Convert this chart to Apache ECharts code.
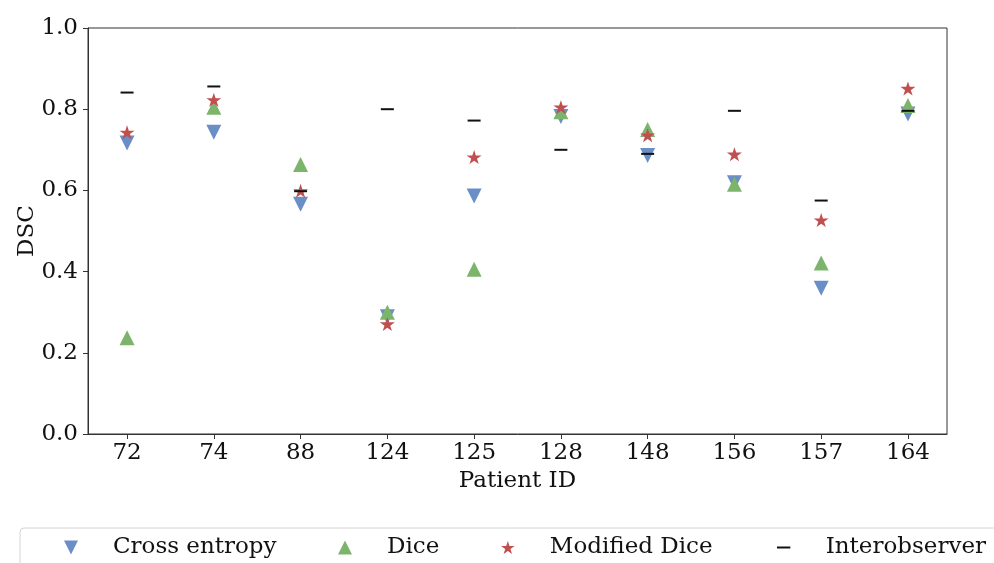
<!DOCTYPE html>
<html>
<head>
<meta charset="utf-8">
<script src="https://cdn.jsdelivr.net/npm/echarts@6/dist/echarts.min.js"></script>
<style>
  html, body { margin: 0; padding: 0; background: #fff; }
  #chart { width: 994px; height: 563px; }
</style>
</head>
<body>
<div id="chart"></div>
<script>
// Patient IDs on the x axis
const patients = ['72', '74', '88', '124', '125', '128', '148', '156', '157', '164'];

// DSC per patient for each loss function and the interobserver reference
const crossEntropy = [0.717, 0.743, 0.566, 0.289, 0.586, 0.782, 0.686, 0.619, 0.359, 0.788];
const dice         = [0.237, 0.805, 0.664, 0.300, 0.406, 0.794, 0.750, 0.615, 0.421, 0.809];
const modifiedDice = [0.743, 0.823, 0.599, 0.271, 0.682, 0.805, 0.736, 0.689, 0.527, 0.851];
const interobserver = [0.841, 0.856, 0.598, 0.800, 0.772, 0.700, 0.690, 0.796, 0.575, 0.796];

// Y axis ticks
const yTicks = [0, 0.2, 0.4, 0.6, 0.8, 1.0];

const FONT = 'DejaVu Serif';
const FS = 23;
const TEXT = '#111';

const TRI_DOWN = 'path://M0,0L2,0L1,2Z';
const TRI_UP = 'path://M1,0L2,2L0,2Z';
const STAR = 'path://M0,-1L0.2245,-0.309L0.9511,-0.309L0.3633,0.118L0.5878,0.809L0,0.382L-0.5878,0.809L-0.3633,0.118L-0.9511,-0.309L-0.2245,-0.309Z';
const DASH = 'path://M0,0H10V1.5H0Z';

const toPoints = vals => patients.map((p, i) => [i, vals[i]]);
const idx = patients.map((p, i) => i);

const chart = echarts.init(document.getElementById('chart'), null, { renderer: 'canvas' });

function legendAt(name, left, icon, h) {
  return {
    data: [name],
    left: left,
    top: 536,
    orient: 'horizontal',
    icon: icon,
    itemWidth: 74,
    itemHeight: h,
    padding: 0,
    selectedMode: false,
    textStyle: { fontFamily: FONT, fontSize: FS, color: TEXT }
  };
}

chart.setOption({
  animation: false,
  backgroundColor: '#fff',
  graphic: [{
    type: 'rect',
    shape: { x: 20, y: 528, width: 1000, height: 60, r: 4 },
    style: { fill: '#fff', stroke: '#d4d4d4', lineWidth: 1 },
    z: 0
  }],
  grid: {
    left: 88, top: 28, width: 859, height: 406,
    show: true, borderColor: '#333', borderWidth: 1, backgroundColor: 'transparent'
  },
  legend: [
    legendAt('Cross entropy', 64, TRI_DOWN, 14),
    legendAt('Dice', 338, TRI_UP, 14),
    legendAt('Modified Dice', 501, STAR, 13),
    legendAt('Interobserver', 777, DASH, 2)
  ],
  xAxis: {
    type: 'value',
    min: -0.45,
    max: 9.45,
    name: 'Patient ID',
    nameLocation: 'middle',
    nameGap: 35,
    nameTextStyle: { fontFamily: FONT, fontSize: FS, color: TEXT },
    axisLine: { show: true, onZero: false, lineStyle: { color: '#333', width: 1 } },
    axisTick: { show: true, inside: false, length: 5, customValues: idx, lineStyle: { color: '#333' } },
    axisLabel: {
      customValues: idx,
      margin: 8,
      fontFamily: FONT, fontSize: FS, color: TEXT,
      formatter: v => patients[Math.round(v)]
    },
    splitLine: { show: false }
  },
  yAxis: {
    type: 'value',
    min: 0,
    max: 1,
    interval: 0.2,
    name: 'DSC',
    nameLocation: 'middle',
    nameGap: 49,
    nameMoveOverlap: false,
    nameRotate: 90,
    nameTextStyle: { fontFamily: FONT, fontSize: FS, color: TEXT },
    axisLine: { show: true, onZero: false, lineStyle: { color: '#333', width: 1 } },
    axisTick: { show: true, inside: false, length: 5, lineStyle: { color: '#333' } },
    axisLabel: {
      margin: 10,
      fontFamily: FONT, fontSize: FS, color: TEXT,
      formatter: v => yTicks.includes(Math.round(v * 10) / 10) ? v.toFixed(1) : ''
    },
    splitLine: { show: false }
  },
  series: [
    {
      name: 'Cross entropy', type: 'scatter',
      symbol: TRI_DOWN, symbolSize: [15, 15],
      itemStyle: { color: '#6A8EC6', opacity: 1 },
      data: toPoints(crossEntropy)
    },
    {
      name: 'Dice', type: 'scatter',
      symbol: TRI_UP, symbolSize: [15, 15],
      itemStyle: { color: '#7DB46C', opacity: 1 },
      data: toPoints(dice)
    },
    {
      name: 'Modified Dice', type: 'scatter',
      symbol: STAR, symbolSize: [15, 14],
      itemStyle: { color: '#C24F4F', opacity: 1 },
      data: toPoints(modifiedDice)
    },
    {
      name: 'Interobserver', type: 'scatter',
      symbol: DASH, symbolSize: [13, 2],
      itemStyle: { color: '#111', opacity: 1 },
      data: toPoints(interobserver)
    }
  ]
});
</script>
</body>
</html>
